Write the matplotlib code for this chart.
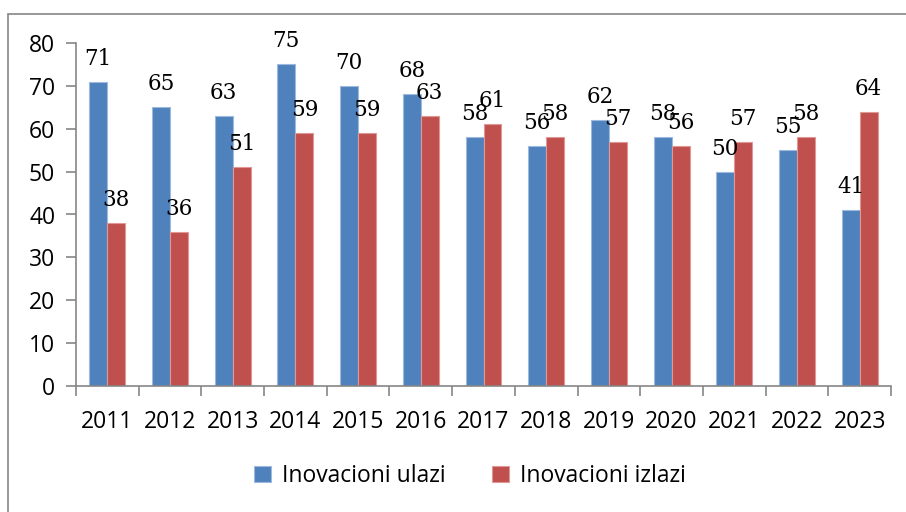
import matplotlib
matplotlib.use("Agg")
import matplotlib.pyplot as plt
import numpy as np
from matplotlib.patches import Rectangle

years = ["2011", "2012", "2013", "2014", "2015", "2016", "2017",
         "2018", "2019", "2020", "2021", "2022", "2023"]
inputs = [71, 65, 63, 75, 70, 68, 58, 56, 62, 58, 50, 55, 41]
outputs = [38, 36, 51, 59, 59, 63, 61, 58, 57, 56, 57, 58, 64]
series_names = ["Inovacioni ulazi", "Inovacioni izlazi"]

W, H = 906, 512
fig = plt.figure(figsize=(W / 100, H / 100), dpi=100)

# outer chart frame
fig.patches.append(Rectangle((8 / W, 0 - 0.01), 1.2, (H - 14) / H + 0.01,
                             transform=fig.transFigure, fill=False,
                             edgecolor="#868686", linewidth=1.2, clip_on=False))

ax = fig.add_axes([76 / W, 1 - 386 / H, (891 - 76) / W, (386 - 43) / H])

x = np.arange(len(years))
bw = 0.287
blue, red = "#4F81BD", "#C0504D"
b1 = ax.bar(x - bw / 2, inputs, bw, color=blue, edgecolor="#9DB9DE", linewidth=0.8,
            label=series_names[0])
b2 = ax.bar(x + bw / 2, outputs, bw, color=red, edgecolor="#E09896", linewidth=0.8,
            label=series_names[1])

for bars, vals in ((b1, inputs), (b2, outputs)):
    for r, v in zip(bars, vals):
        ax.annotate(str(v), (r.get_x() + r.get_width() / 2, v),
                    xytext=(0, 17), textcoords="offset pixels",
                    ha="center", va="baseline", fontsize=15.5,
                    family="DejaVu Serif", color="black")

ax.set_xlim(-0.5, len(years) - 0.5)
ax.set_ylim(0, 80)
ax.set_yticks(range(0, 81, 10))
ax.set_xticks(x)
ax.set_xticklabels(years)
ax.set_xticks(np.arange(-0.5, len(years), 1), minor=True)
ax.tick_params(axis="x", which="major", length=0, pad=17)
ax.tick_params(axis="x", which="minor", length=7, width=1.2, color="#868686")
ax.tick_params(axis="y", length=7, width=1.2, color="#868686", pad=8)
for lab in ax.get_xticklabels() + ax.get_yticklabels():
    lab.set_fontfamily("Open Sans")
    lab.set_fontsize(16.5)

for s in ("top", "right"):
    ax.spines[s].set_visible(False)
for s in ("left", "bottom"):
    ax.spines[s].set_color("#868686")
    ax.spines[s].set_linewidth(1.2)

fig.legend(handles=[b1, b2], loc="center", bbox_to_anchor=(470 / W, 1 - 476 / H),
           ncol=2, frameon=False, prop={"family": "Open Sans", "size": 16.5},
           handlelength=0.75, handleheight=0.75, handletextpad=0.5, columnspacing=2.0)

fig.savefig("out.png", dpi=100)
